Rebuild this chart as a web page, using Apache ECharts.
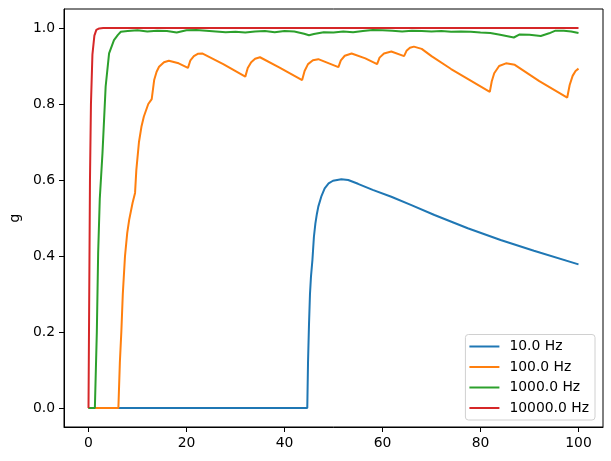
<!DOCTYPE html>
<html>
<head>
<meta charset="utf-8">
<script src="https://cdn.jsdelivr.net/npm/echarts@6/dist/echarts.min.js"></script>
<style>
  html, body { margin: 0; padding: 0; background: #fff; }
  #chart { width: 611px; height: 461px; }
</style>
</head>
<body>
<div id="chart"></div>
<script>
// values, [time, g]
var hz10 = [[0,0],[44.65,0],[44.8,0.12],[45.0,0.22],[45.2,0.30],[45.4,0.345],[45.7,0.39],[46.0,0.45],
  [46.3,0.485],[46.6,0.51],[46.9,0.53],[47.5,0.556],[48.2,0.578],[49,0.591],[49.9,0.598],[51.6,0.602],
  [53,0.600],[55,0.59],[58,0.574],[61.8,0.556],[65.9,0.534],[70.6,0.508],[77.4,0.473],[84.1,0.442],
  [90.9,0.414],[100,0.378]];

var hz100 = [[0,0],[6.1,0],[6.4,0.12],[6.7,0.2],[7.0,0.3],[7.45,0.4],[7.9,0.46],[8.3,0.495],[9.0,0.54],[9.5,0.566],
  [9.76,0.626],[10.3,0.70],[10.8,0.74],[11.3,0.767],[12.2,0.80],[12.9,0.813],[13.4,0.863],[13.9,0.885],[14.4,0.898],[15.4,0.91],
  [16.4,0.914],[18.4,0.907],[20.3,0.895],[20.8,0.915],[21.5,0.926],[22.3,0.932],[23.2,0.933],[27.5,0.905],
  [32,0.872],[32.5,0.895],[33.2,0.91],[34,0.919],[35,0.923],[39,0.896],[43.6,0.863],[44.1,0.887],
  [44.8,0.905],[45.8,0.915],[46.9,0.918],[51,0.897],[51.5,0.915],[52.3,0.927],[53.7,0.933],[56.5,0.92],
  [58.9,0.905],[59.4,0.922],[60.3,0.933],[61.8,0.938],[64.4,0.926],[64.9,0.94],[65.6,0.948],[66.4,0.951],
  [68,0.945],[70,0.926],[74,0.892],[81.9,0.832],[82.3,0.86],[82.8,0.881],[83.8,0.9],[85.2,0.907],
  [87,0.903],[92,0.86],[97.7,0.817],[98.2,0.85],[98.8,0.874],[99.4,0.887],[100,0.893]];

var hz1000 = [[0,0],[1.3,0],[1.5,0.1],[1.7,0.2],[1.97,0.408],[2.3,0.55],[2.85,0.67],[3.5,0.846],
  [4.2,0.933],[5.2,0.968],[6,0.982],[6.6,0.99],[7,0.993],[8,0.992],[10,0.994],[12,0.991],[14,0.993],
  [16,0.992],[18,0.988],[20,0.994],[22,0.995],[24,0.993],[26,0.991],[28,0.989],[30,0.990],[32,0.988],
  [34,0.991],[36,0.992],[38,0.989],[40,0.992],[42,0.991],[44,0.985],[45,0.981],[46,0.984],[48,0.989],
  [50,0.988],[52,0.991],[54,0.989],[56,0.992],[58,0.995],[60,0.994],[62,0.993],[64,0.991],[66,0.993],
  [68,0.992],[70,0.991],[72,0.992],[74,0.990],[76,0.991],[78,0.990],[80,0.988],[82,0.987],[84,0.982],
  [86.8,0.975],[88,0.983],[90,0.982],[92.3,0.979],[94,0.986],[95.3,0.993],[97,0.993],[98.5,0.991],[100,0.987]];

var hz10000 = [[0,0],[0.15,0.3],[0.3,0.6],[0.5,0.8],[0.8,0.93],[1.2,0.98],[1.6,0.995],[2.2,0.999],[3,1.0],[100,1.0]];

var seriesNames = ['10.0 Hz', '100.0 Hz', '1000.0 Hz', '10000.0 Hz'];
var seriesColors = ['#1f77b4', '#ff7f0e', '#2ca02c', '#d62728'];
var xTicks = [0, 20, 40, 60, 80, 100];
var yTicks = [0, 0.2, 0.4, 0.6, 0.8, 1.0];

var chart = echarts.init(document.getElementById('chart'));
var font = 'DejaVu Sans';

var allData = [hz10, hz100, hz1000, hz10000];
var series = allData.map(function (d, i) {
  return {
    name: seriesNames[i],
    type: 'line',
    data: d,
    symbol: 'none',
    animation: false,
    lineStyle: { width: 2, color: seriesColors[i] },
    itemStyle: { color: seriesColors[i] }
  };
});

chart.setOption({
  animation: false,
  grid: { left: 61, right: 8, top: 9, bottom: 34, show: true, borderColor: '#000', borderWidth: 1 },
  xAxis: {
    type: 'value', min: -5, max: 105,
    axisLine: { show: true, onZero: false, lineStyle: { color: '#000' } },
    axisTick: { show: true, length: 5, customValues: xTicks, lineStyle: { color: '#000' } },
    axisLabel: { customValues: xTicks, color: '#000', fontFamily: font, fontSize: 13.9, margin: 9 },
    splitLine: { show: false }
  },
  yAxis: {
    type: 'value', min: -0.05, max: 1.05,
    name: 'g', nameLocation: 'middle', nameGap: 42, nameRotate: 90,
    nameTextStyle: { color: '#000', fontFamily: font, fontSize: 13.9 },
    axisLine: { show: true, onZero: false, lineStyle: { color: '#000' } },
    axisTick: { show: true, length: 5, customValues: yTicks, lineStyle: { color: '#000' } },
    axisLabel: {
      customValues: yTicks, color: '#000', fontFamily: font, fontSize: 13.9, margin: 9,
      formatter: function (v) { return v.toFixed(1); }
    },
    splitLine: { show: false }
  },
  legend: {
    data: seriesNames,
    orient: 'vertical',
    right: 16, bottom: 41,
    padding: [5, 6, 5, 4],
    itemGap: 6.5,
    icon: 'rect',
    itemWidth: 30, itemHeight: 2,
    backgroundColor: 'rgba(255,255,255,0.8)',
    borderColor: '#d0d0d0', borderWidth: 1, borderRadius: 3,
    textStyle: { color: '#000', fontFamily: font, fontSize: 13.9, padding: [0, 0, 0, 5] }
  },
  series: series
});
</script>
</body>
</html>
